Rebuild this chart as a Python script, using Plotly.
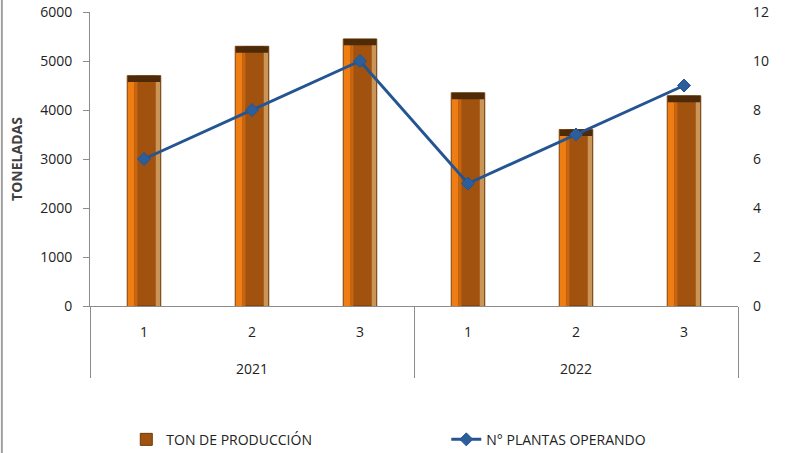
import plotly.graph_objects as go

years = ["2021", "2021", "2021", "2022", "2022", "2022"]
quarters = ["1", "2", "3", "1", "2", "3"]
ton_produccion = [4700, 5300, 5450, 4350, 3600, 4290]
plantas_operando = [6, 8, 10, 5, 7, 9]

# label text is shown at 14px; blank lines (at the smaller axis font) push the year row down
span = "<span style='font-size:14px'>{}</span>"
x = [["<br><br>" + span.format(y) for y in years], [span.format(q) for q in quarters]]
W = 0.31
cap = [130] * len(ton_produccion)
cap_base = [v - c for v, c in zip(ton_produccion, cap)]

fig = go.Figure()
fig.add_trace(go.Bar(x=x, y=ton_produccion, width=W, name="TON DE PRODUCCIÓN",
                     marker=dict(color="#A0520E", line=dict(color="#6B3A0C", width=1)),
                     hoverinfo="skip", showlegend=True))
fig.add_trace(go.Bar(x=x, y=ton_produccion, width=0.06, offset=-W / 2 + 0.004,
                     marker=dict(color="#EE7D14", line=dict(width=0)),
                     hoverinfo="skip", showlegend=False))
fig.add_trace(go.Bar(x=x, y=ton_produccion, width=0.03, offset=-W / 2 + 0.064,
                     marker=dict(color="#C8650F", line=dict(width=0)),
                     hoverinfo="skip", showlegend=False))
fig.add_trace(go.Bar(x=x, y=ton_produccion, width=0.04, offset=W / 2 - 0.046,
                     marker=dict(color="#C99658", line=dict(width=0)),
                     hoverinfo="skip", showlegend=False))
fig.add_trace(go.Bar(x=x, y=cap, base=cap_base, width=W - 0.008,
                     marker=dict(color="#4E2A08", line=dict(width=0)),
                     hoverinfo="skip", showlegend=False))
fig.add_trace(go.Scatter(x=x, y=plantas_operando, yaxis="y2", mode="lines+markers",
                         name="N° PLANTAS OPERANDO",
                         line=dict(color="#245592", width=3),
                         marker=dict(symbol="diamond", size=10, color="#2C5E9C",
                                     line=dict(color="#245592", width=1))))

font_family = "Open Sans, Liberation Sans, sans-serif"
fig.update_layout(
    width=786, height=453,
    margin=dict(l=90, r=48, t=12, b=147, autoexpand=False),
    paper_bgcolor="white", plot_bgcolor="white",
    barmode="overlay",
    font=dict(family=font_family, size=14, color="#333333"),
    xaxis=dict(type="multicategory", showline=True, linecolor="#8C8C8C", linewidth=1,
               showdividers=True, dividercolor="#8C8C8C", dividerwidth=1,
               ticks="outside", tickcolor="#8C8C8C", ticklen=0, ticklabelstandoff=16,
               tickfont=dict(size=12, color="#222222"), showgrid=False, automargin=False),
    yaxis=dict(range=[0, 6000], dtick=1000, showline=True, linecolor="#8C8C8C",
               linewidth=1, ticks="outside", ticklen=6, tickcolor="#8C8C8C",
               ticklabelstandoff=8,
               showgrid=False, zeroline=False, automargin=False,
               tickfont=dict(size=14, color="#222222"),
               title=dict(text="<b>TONELADAS</b>", font=dict(size=14, color="#404040"),
                          standoff=14)),
    yaxis2=dict(range=[0, 12], dtick=2, overlaying="y", side="right",
                showline=False, showgrid=False, zeroline=False, ticks="", automargin=False,
                ticklabelstandoff=14,
                tickfont=dict(size=14, color="#222222")),
    legend=dict(orientation="h", x=0.056, y=-0.455, xanchor="left", yanchor="middle",
                font=dict(size=14, color="#222222"), entrywidth=275,
                entrywidthmode="pixels", traceorder="normal"),
    showlegend=True,
)
fig.add_shape(type="line", xref="paper", yref="paper", x0=-0.136, x1=-0.136, y0=-0.6, y1=1.05,
              line=dict(color="#A0A0A0", width=2))

fig.write_html("out.html", config={"displayModeBar": False},
               post_script="document.body.style.margin='0';")
